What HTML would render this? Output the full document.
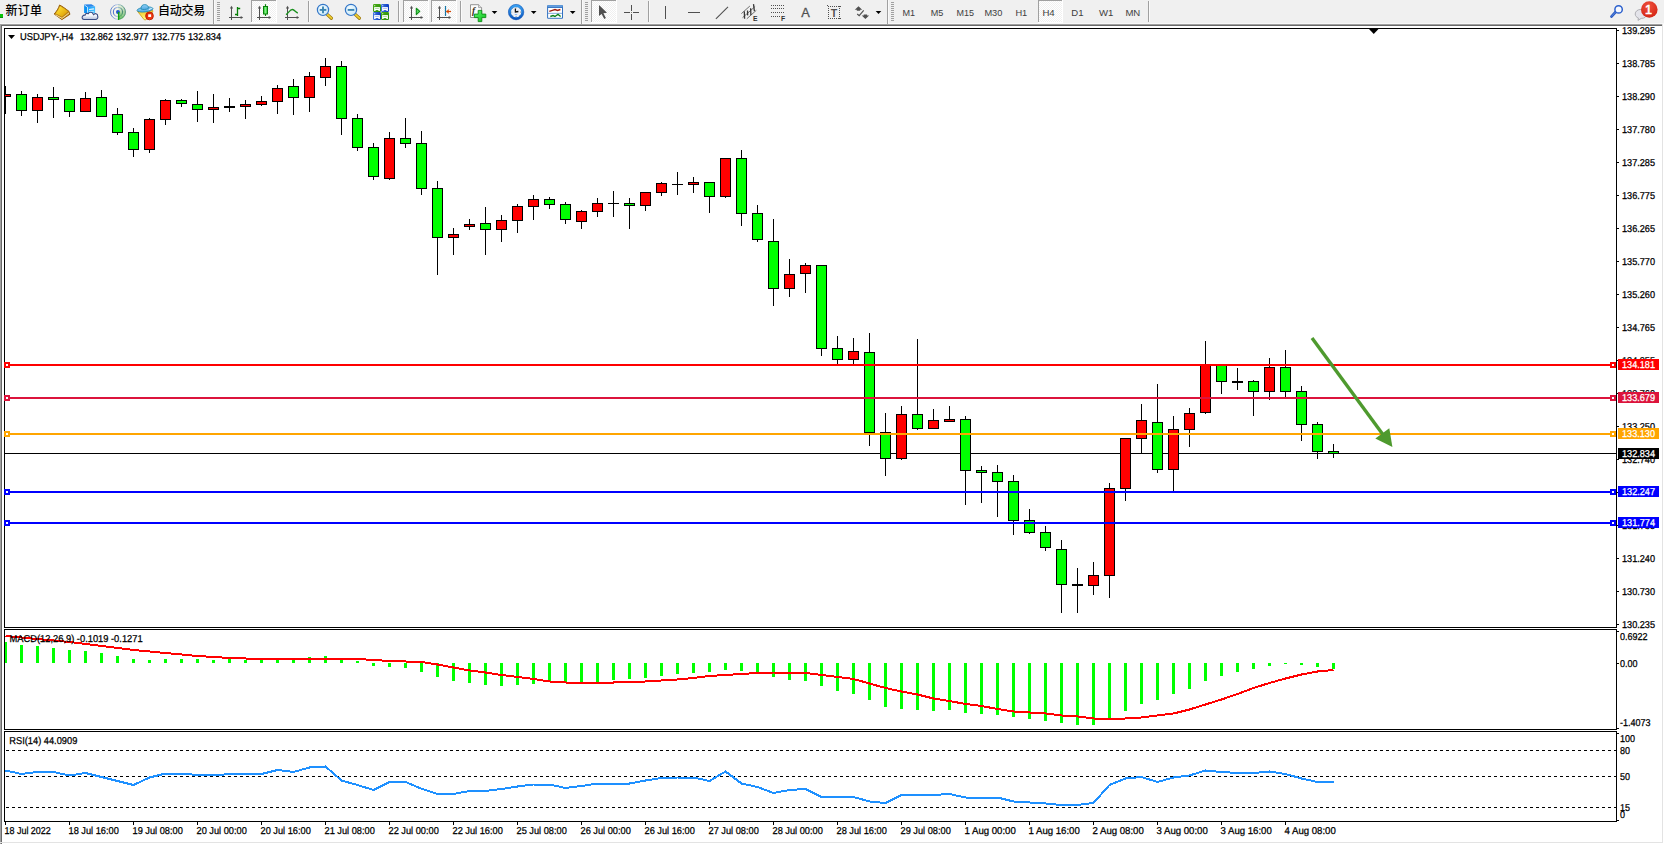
<!DOCTYPE html>
<html lang="zh-CN"><head><meta charset="utf-8"><title>USDJPY-,H4</title>
<style>
html,body{margin:0;padding:0;background:#f0f0f0;}
body{width:1664px;height:844px;overflow:hidden;position:relative;font-family:"Liberation Sans", "Noto Sans CJK SC", sans-serif;}
svg text{white-space:pre;}
</style></head><body>
<svg width="1664" height="844" viewBox="0 0 1664 844" style="position:absolute;left:0;top:0;font-family:'Liberation Sans', 'Noto Sans CJK SC', sans-serif" shape-rendering="crispEdges">
<rect x="0" y="0" width="1664" height="844" fill="#f0f0f0"/>
<rect x="0" y="24" width="1664" height="1" fill="#a0a0a0"/>
<rect x="0" y="25" width="1664" height="1" fill="#696969"/>
<rect x="0" y="26" width="1664" height="818" fill="#ffffff"/>
<rect x="0" y="24" width="1" height="820" fill="#a0a0a0"/>
<rect x="1" y="25" width="1" height="819" fill="#696969"/>
<rect x="1662" y="24" width="1" height="819" fill="#e3e3e3"/>
<rect x="1663" y="24" width="1" height="820" fill="#ffffff"/>
<rect x="0" y="842" width="1663" height="1" fill="#e3e3e3"/>
<rect x="0" y="23" width="1664" height="1" fill="#f8f8f8"/>
<rect x="4.5" y="28.5" width="1612" height="599" fill="none" stroke="#000" stroke-width="1"/>
<rect x="4.5" y="629.5" width="1612" height="100" fill="none" stroke="#000" stroke-width="1"/>
<rect x="4.5" y="731.5" width="1612" height="90" fill="none" stroke="#000" stroke-width="1"/>
<defs><clipPath id="cp"><rect x="5" y="29" width="1611" height="793"/></clipPath></defs>
<g clip-path="url(#cp)">
<rect x="5" y="453" width="1611" height="1" fill="#000"/>
<rect x="5" y="86" width="1" height="28" fill="#000"/>
<rect x="0" y="94" width="11" height="3" fill="#000"/>
<rect x="1" y="95" width="9" height="1" fill="#ff0000"/>
<rect x="21" y="91" width="1" height="25" fill="#000"/>
<rect x="16" y="94" width="11" height="17" fill="#000"/>
<rect x="17" y="95" width="9" height="15" fill="#00ff00"/>
<rect x="37" y="94" width="1" height="29" fill="#000"/>
<rect x="32" y="97" width="11" height="14" fill="#000"/>
<rect x="33" y="98" width="9" height="12" fill="#ff0000"/>
<rect x="53" y="87" width="1" height="31" fill="#000"/>
<rect x="48" y="97" width="11" height="3" fill="#000"/>
<rect x="49" y="98" width="9" height="1" fill="#00ff00"/>
<rect x="69" y="99" width="1" height="18" fill="#000"/>
<rect x="64" y="99" width="11" height="13" fill="#000"/>
<rect x="65" y="100" width="9" height="11" fill="#00ff00"/>
<rect x="85" y="92" width="1" height="20" fill="#000"/>
<rect x="80" y="98" width="11" height="14" fill="#000"/>
<rect x="81" y="99" width="9" height="12" fill="#ff0000"/>
<rect x="101" y="90" width="1" height="27" fill="#000"/>
<rect x="96" y="97" width="11" height="20" fill="#000"/>
<rect x="97" y="98" width="9" height="18" fill="#00ff00"/>
<rect x="117" y="108" width="1" height="27" fill="#000"/>
<rect x="112" y="114" width="11" height="19" fill="#000"/>
<rect x="113" y="115" width="9" height="17" fill="#00ff00"/>
<rect x="133" y="128" width="1" height="29" fill="#000"/>
<rect x="128" y="132" width="11" height="18" fill="#000"/>
<rect x="129" y="133" width="9" height="16" fill="#00ff00"/>
<rect x="149" y="118" width="1" height="35" fill="#000"/>
<rect x="144" y="119" width="11" height="31" fill="#000"/>
<rect x="145" y="120" width="9" height="29" fill="#ff0000"/>
<rect x="165" y="99" width="1" height="26" fill="#000"/>
<rect x="160" y="100" width="11" height="20" fill="#000"/>
<rect x="161" y="101" width="9" height="18" fill="#ff0000"/>
<rect x="181" y="99" width="1" height="8" fill="#000"/>
<rect x="176" y="100" width="11" height="4" fill="#000"/>
<rect x="177" y="101" width="9" height="2" fill="#00ff00"/>
<rect x="197" y="91" width="1" height="31" fill="#000"/>
<rect x="192" y="104" width="11" height="6" fill="#000"/>
<rect x="193" y="105" width="9" height="4" fill="#00ff00"/>
<rect x="213" y="94" width="1" height="29" fill="#000"/>
<rect x="208" y="107" width="11" height="3" fill="#000"/>
<rect x="209" y="108" width="9" height="1" fill="#ff0000"/>
<rect x="229" y="98" width="1" height="14" fill="#000"/>
<rect x="224" y="106" width="11" height="2" fill="#000"/>
<rect x="245" y="100" width="1" height="19" fill="#000"/>
<rect x="240" y="104" width="11" height="3" fill="#000"/>
<rect x="241" y="105" width="9" height="1" fill="#ff0000"/>
<rect x="261" y="96" width="1" height="10" fill="#000"/>
<rect x="256" y="101" width="11" height="4" fill="#000"/>
<rect x="257" y="102" width="9" height="2" fill="#ff0000"/>
<rect x="277" y="85" width="1" height="29" fill="#000"/>
<rect x="272" y="88" width="11" height="14" fill="#000"/>
<rect x="273" y="89" width="9" height="12" fill="#ff0000"/>
<rect x="293" y="79" width="1" height="36" fill="#000"/>
<rect x="288" y="86" width="11" height="12" fill="#000"/>
<rect x="289" y="87" width="9" height="10" fill="#00ff00"/>
<rect x="309" y="72" width="1" height="40" fill="#000"/>
<rect x="304" y="76" width="11" height="22" fill="#000"/>
<rect x="305" y="77" width="9" height="20" fill="#ff0000"/>
<rect x="325" y="58" width="1" height="28" fill="#000"/>
<rect x="320" y="66" width="11" height="12" fill="#000"/>
<rect x="321" y="67" width="9" height="10" fill="#ff0000"/>
<rect x="341" y="61" width="1" height="74" fill="#000"/>
<rect x="336" y="66" width="11" height="53" fill="#000"/>
<rect x="337" y="67" width="9" height="51" fill="#00ff00"/>
<rect x="357" y="114" width="1" height="37" fill="#000"/>
<rect x="352" y="118" width="11" height="30" fill="#000"/>
<rect x="353" y="119" width="9" height="28" fill="#00ff00"/>
<rect x="373" y="143" width="1" height="37" fill="#000"/>
<rect x="368" y="147" width="11" height="30" fill="#000"/>
<rect x="369" y="148" width="9" height="28" fill="#00ff00"/>
<rect x="389" y="132" width="1" height="48" fill="#000"/>
<rect x="384" y="138" width="11" height="41" fill="#000"/>
<rect x="385" y="139" width="9" height="39" fill="#ff0000"/>
<rect x="405" y="118" width="1" height="30" fill="#000"/>
<rect x="400" y="138" width="11" height="6" fill="#000"/>
<rect x="401" y="139" width="9" height="4" fill="#00ff00"/>
<rect x="421" y="131" width="1" height="64" fill="#000"/>
<rect x="416" y="143" width="11" height="46" fill="#000"/>
<rect x="417" y="144" width="9" height="44" fill="#00ff00"/>
<rect x="437" y="181" width="1" height="94" fill="#000"/>
<rect x="432" y="188" width="11" height="50" fill="#000"/>
<rect x="433" y="189" width="9" height="48" fill="#00ff00"/>
<rect x="453" y="228" width="1" height="27" fill="#000"/>
<rect x="448" y="234" width="11" height="4" fill="#000"/>
<rect x="449" y="235" width="9" height="2" fill="#ff0000"/>
<rect x="469" y="219" width="1" height="11" fill="#000"/>
<rect x="464" y="224" width="11" height="3" fill="#000"/>
<rect x="465" y="225" width="9" height="1" fill="#ff0000"/>
<rect x="485" y="207" width="1" height="48" fill="#000"/>
<rect x="480" y="223" width="11" height="7" fill="#000"/>
<rect x="481" y="224" width="9" height="5" fill="#00ff00"/>
<rect x="501" y="215" width="1" height="27" fill="#000"/>
<rect x="496" y="220" width="11" height="10" fill="#000"/>
<rect x="497" y="221" width="9" height="8" fill="#ff0000"/>
<rect x="517" y="204" width="1" height="29" fill="#000"/>
<rect x="512" y="206" width="11" height="15" fill="#000"/>
<rect x="513" y="207" width="9" height="13" fill="#ff0000"/>
<rect x="533" y="195" width="1" height="25" fill="#000"/>
<rect x="528" y="199" width="11" height="8" fill="#000"/>
<rect x="529" y="200" width="9" height="6" fill="#ff0000"/>
<rect x="549" y="197" width="1" height="12" fill="#000"/>
<rect x="544" y="199" width="11" height="6" fill="#000"/>
<rect x="545" y="200" width="9" height="4" fill="#00ff00"/>
<rect x="565" y="202" width="1" height="22" fill="#000"/>
<rect x="560" y="204" width="11" height="16" fill="#000"/>
<rect x="561" y="205" width="9" height="14" fill="#00ff00"/>
<rect x="581" y="210" width="1" height="19" fill="#000"/>
<rect x="576" y="211" width="11" height="11" fill="#000"/>
<rect x="577" y="212" width="9" height="9" fill="#ff0000"/>
<rect x="597" y="198" width="1" height="19" fill="#000"/>
<rect x="592" y="203" width="11" height="9" fill="#000"/>
<rect x="593" y="204" width="9" height="7" fill="#ff0000"/>
<rect x="613" y="191" width="1" height="26" fill="#000"/>
<rect x="608" y="203" width="11" height="1" fill="#000"/>
<rect x="629" y="198" width="1" height="31" fill="#000"/>
<rect x="624" y="203" width="11" height="3" fill="#000"/>
<rect x="625" y="204" width="9" height="1" fill="#00ff00"/>
<rect x="645" y="192" width="1" height="19" fill="#000"/>
<rect x="640" y="192" width="11" height="14" fill="#000"/>
<rect x="641" y="193" width="9" height="12" fill="#ff0000"/>
<rect x="661" y="182" width="1" height="14" fill="#000"/>
<rect x="656" y="183" width="11" height="10" fill="#000"/>
<rect x="657" y="184" width="9" height="8" fill="#ff0000"/>
<rect x="677" y="172" width="1" height="23" fill="#000"/>
<rect x="672" y="184" width="11" height="1" fill="#000"/>
<rect x="693" y="177" width="1" height="16" fill="#000"/>
<rect x="688" y="182" width="11" height="3" fill="#000"/>
<rect x="689" y="183" width="9" height="1" fill="#ff0000"/>
<rect x="709" y="182" width="1" height="31" fill="#000"/>
<rect x="704" y="182" width="11" height="15" fill="#000"/>
<rect x="705" y="183" width="9" height="13" fill="#00ff00"/>
<rect x="725" y="158" width="1" height="40" fill="#000"/>
<rect x="720" y="158" width="11" height="39" fill="#000"/>
<rect x="721" y="159" width="9" height="37" fill="#ff0000"/>
<rect x="741" y="150" width="1" height="76" fill="#000"/>
<rect x="736" y="158" width="11" height="56" fill="#000"/>
<rect x="737" y="159" width="9" height="54" fill="#00ff00"/>
<rect x="757" y="205" width="1" height="37" fill="#000"/>
<rect x="752" y="213" width="11" height="27" fill="#000"/>
<rect x="753" y="214" width="9" height="25" fill="#00ff00"/>
<rect x="773" y="219" width="1" height="87" fill="#000"/>
<rect x="768" y="241" width="11" height="48" fill="#000"/>
<rect x="769" y="242" width="9" height="46" fill="#00ff00"/>
<rect x="789" y="259" width="1" height="38" fill="#000"/>
<rect x="784" y="274" width="11" height="15" fill="#000"/>
<rect x="785" y="275" width="9" height="13" fill="#ff0000"/>
<rect x="805" y="263" width="1" height="30" fill="#000"/>
<rect x="800" y="265" width="11" height="9" fill="#000"/>
<rect x="801" y="266" width="9" height="7" fill="#ff0000"/>
<rect x="821" y="265" width="1" height="91" fill="#000"/>
<rect x="816" y="265" width="11" height="84" fill="#000"/>
<rect x="817" y="266" width="9" height="82" fill="#00ff00"/>
<rect x="837" y="336" width="1" height="28" fill="#000"/>
<rect x="832" y="348" width="11" height="12" fill="#000"/>
<rect x="833" y="349" width="9" height="10" fill="#00ff00"/>
<rect x="853" y="338" width="1" height="26" fill="#000"/>
<rect x="848" y="351" width="11" height="9" fill="#000"/>
<rect x="849" y="352" width="9" height="7" fill="#ff0000"/>
<rect x="869" y="333" width="1" height="113" fill="#000"/>
<rect x="864" y="352" width="11" height="81" fill="#000"/>
<rect x="865" y="353" width="9" height="79" fill="#00ff00"/>
<rect x="885" y="413" width="1" height="63" fill="#000"/>
<rect x="880" y="432" width="11" height="27" fill="#000"/>
<rect x="881" y="433" width="9" height="25" fill="#00ff00"/>
<rect x="901" y="406" width="1" height="54" fill="#000"/>
<rect x="896" y="414" width="11" height="45" fill="#000"/>
<rect x="897" y="415" width="9" height="43" fill="#ff0000"/>
<rect x="917" y="339" width="1" height="91" fill="#000"/>
<rect x="912" y="414" width="11" height="15" fill="#000"/>
<rect x="913" y="415" width="9" height="13" fill="#00ff00"/>
<rect x="933" y="409" width="1" height="20" fill="#000"/>
<rect x="928" y="420" width="11" height="9" fill="#000"/>
<rect x="929" y="421" width="9" height="7" fill="#ff0000"/>
<rect x="949" y="406" width="1" height="16" fill="#000"/>
<rect x="944" y="419" width="11" height="3" fill="#000"/>
<rect x="945" y="420" width="9" height="1" fill="#ff0000"/>
<rect x="965" y="416" width="1" height="89" fill="#000"/>
<rect x="960" y="419" width="11" height="52" fill="#000"/>
<rect x="961" y="420" width="9" height="50" fill="#00ff00"/>
<rect x="981" y="466" width="1" height="37" fill="#000"/>
<rect x="976" y="470" width="11" height="3" fill="#000"/>
<rect x="977" y="471" width="9" height="1" fill="#00ff00"/>
<rect x="997" y="465" width="1" height="52" fill="#000"/>
<rect x="992" y="472" width="11" height="10" fill="#000"/>
<rect x="993" y="473" width="9" height="8" fill="#00ff00"/>
<rect x="1013" y="475" width="1" height="60" fill="#000"/>
<rect x="1008" y="481" width="11" height="40" fill="#000"/>
<rect x="1009" y="482" width="9" height="38" fill="#00ff00"/>
<rect x="1029" y="509" width="1" height="25" fill="#000"/>
<rect x="1024" y="520" width="11" height="13" fill="#000"/>
<rect x="1025" y="521" width="9" height="11" fill="#00ff00"/>
<rect x="1045" y="526" width="1" height="25" fill="#000"/>
<rect x="1040" y="532" width="11" height="16" fill="#000"/>
<rect x="1041" y="533" width="9" height="14" fill="#00ff00"/>
<rect x="1061" y="540" width="1" height="73" fill="#000"/>
<rect x="1056" y="549" width="11" height="36" fill="#000"/>
<rect x="1057" y="550" width="9" height="34" fill="#00ff00"/>
<rect x="1077" y="568" width="1" height="45" fill="#000"/>
<rect x="1072" y="584" width="11" height="2" fill="#000"/>
<rect x="1093" y="562" width="1" height="33" fill="#000"/>
<rect x="1088" y="575" width="11" height="11" fill="#000"/>
<rect x="1089" y="576" width="9" height="9" fill="#ff0000"/>
<rect x="1109" y="483" width="1" height="115" fill="#000"/>
<rect x="1104" y="488" width="11" height="88" fill="#000"/>
<rect x="1105" y="489" width="9" height="86" fill="#ff0000"/>
<rect x="1125" y="438" width="1" height="63" fill="#000"/>
<rect x="1120" y="438" width="11" height="51" fill="#000"/>
<rect x="1121" y="439" width="9" height="49" fill="#ff0000"/>
<rect x="1141" y="404" width="1" height="49" fill="#000"/>
<rect x="1136" y="420" width="11" height="19" fill="#000"/>
<rect x="1137" y="421" width="9" height="17" fill="#ff0000"/>
<rect x="1157" y="384" width="1" height="89" fill="#000"/>
<rect x="1152" y="422" width="11" height="48" fill="#000"/>
<rect x="1153" y="423" width="9" height="46" fill="#00ff00"/>
<rect x="1173" y="416" width="1" height="75" fill="#000"/>
<rect x="1168" y="429" width="11" height="41" fill="#000"/>
<rect x="1169" y="430" width="9" height="39" fill="#ff0000"/>
<rect x="1189" y="408" width="1" height="39" fill="#000"/>
<rect x="1184" y="413" width="11" height="17" fill="#000"/>
<rect x="1185" y="414" width="9" height="15" fill="#ff0000"/>
<rect x="1205" y="341" width="1" height="73" fill="#000"/>
<rect x="1200" y="364" width="11" height="49" fill="#000"/>
<rect x="1201" y="365" width="9" height="47" fill="#ff0000"/>
<rect x="1221" y="365" width="1" height="29" fill="#000"/>
<rect x="1216" y="365" width="11" height="17" fill="#000"/>
<rect x="1217" y="366" width="9" height="15" fill="#00ff00"/>
<rect x="1237" y="368" width="1" height="22" fill="#000"/>
<rect x="1232" y="381" width="11" height="2" fill="#000"/>
<rect x="1253" y="380" width="1" height="36" fill="#000"/>
<rect x="1248" y="381" width="11" height="11" fill="#000"/>
<rect x="1249" y="382" width="9" height="9" fill="#00ff00"/>
<rect x="1269" y="358" width="1" height="42" fill="#000"/>
<rect x="1264" y="367" width="11" height="25" fill="#000"/>
<rect x="1265" y="368" width="9" height="23" fill="#ff0000"/>
<rect x="1285" y="350" width="1" height="47" fill="#000"/>
<rect x="1280" y="367" width="11" height="25" fill="#000"/>
<rect x="1281" y="368" width="9" height="23" fill="#00ff00"/>
<rect x="1301" y="386" width="1" height="55" fill="#000"/>
<rect x="1296" y="391" width="11" height="34" fill="#000"/>
<rect x="1297" y="392" width="9" height="32" fill="#00ff00"/>
<rect x="1317" y="422" width="1" height="37" fill="#000"/>
<rect x="1312" y="424" width="11" height="28" fill="#000"/>
<rect x="1313" y="425" width="9" height="26" fill="#00ff00"/>
<rect x="1333" y="444" width="1" height="14" fill="#000"/>
<rect x="1328" y="451" width="11" height="3" fill="#000"/>
<rect x="1329" y="452" width="9" height="1" fill="#00ff00"/>
<rect x="4" y="642" width="3" height="21" fill="#00ff00"/>
<rect x="20" y="645" width="3" height="18" fill="#00ff00"/>
<rect x="36" y="646" width="3" height="17" fill="#00ff00"/>
<rect x="52" y="648" width="3" height="15" fill="#00ff00"/>
<rect x="68" y="650" width="3" height="13" fill="#00ff00"/>
<rect x="84" y="651" width="3" height="12" fill="#00ff00"/>
<rect x="100" y="653" width="3" height="10" fill="#00ff00"/>
<rect x="116" y="656" width="3" height="7" fill="#00ff00"/>
<rect x="132" y="659" width="3" height="4" fill="#00ff00"/>
<rect x="148" y="660" width="3" height="3" fill="#00ff00"/>
<rect x="164" y="659" width="3" height="4" fill="#00ff00"/>
<rect x="180" y="659" width="3" height="4" fill="#00ff00"/>
<rect x="196" y="659" width="3" height="4" fill="#00ff00"/>
<rect x="212" y="660" width="3" height="3" fill="#00ff00"/>
<rect x="228" y="659" width="3" height="4" fill="#00ff00"/>
<rect x="244" y="660" width="3" height="3" fill="#00ff00"/>
<rect x="260" y="660" width="3" height="3" fill="#00ff00"/>
<rect x="276" y="660" width="3" height="3" fill="#00ff00"/>
<rect x="292" y="660" width="3" height="3" fill="#00ff00"/>
<rect x="308" y="657" width="3" height="6" fill="#00ff00"/>
<rect x="324" y="656" width="3" height="7" fill="#00ff00"/>
<rect x="340" y="659" width="3" height="4" fill="#00ff00"/>
<rect x="356" y="661" width="3" height="2" fill="#00ff00"/>
<rect x="372" y="663" width="3" height="3" fill="#00ff00"/>
<rect x="388" y="663" width="3" height="4" fill="#00ff00"/>
<rect x="404" y="663" width="3" height="5" fill="#00ff00"/>
<rect x="420" y="663" width="3" height="9" fill="#00ff00"/>
<rect x="436" y="663" width="3" height="14" fill="#00ff00"/>
<rect x="452" y="663" width="3" height="18" fill="#00ff00"/>
<rect x="468" y="663" width="3" height="20" fill="#00ff00"/>
<rect x="484" y="663" width="3" height="22" fill="#00ff00"/>
<rect x="500" y="663" width="3" height="23" fill="#00ff00"/>
<rect x="516" y="663" width="3" height="22" fill="#00ff00"/>
<rect x="532" y="663" width="3" height="21" fill="#00ff00"/>
<rect x="548" y="663" width="3" height="19" fill="#00ff00"/>
<rect x="564" y="663" width="3" height="19" fill="#00ff00"/>
<rect x="580" y="663" width="3" height="19" fill="#00ff00"/>
<rect x="596" y="663" width="3" height="19" fill="#00ff00"/>
<rect x="612" y="663" width="3" height="17" fill="#00ff00"/>
<rect x="628" y="663" width="3" height="16" fill="#00ff00"/>
<rect x="644" y="663" width="3" height="15" fill="#00ff00"/>
<rect x="660" y="663" width="3" height="13" fill="#00ff00"/>
<rect x="676" y="663" width="3" height="11" fill="#00ff00"/>
<rect x="692" y="663" width="3" height="10" fill="#00ff00"/>
<rect x="708" y="663" width="3" height="9" fill="#00ff00"/>
<rect x="724" y="663" width="3" height="7" fill="#00ff00"/>
<rect x="740" y="663" width="3" height="8" fill="#00ff00"/>
<rect x="756" y="663" width="3" height="10" fill="#00ff00"/>
<rect x="772" y="663" width="3" height="14" fill="#00ff00"/>
<rect x="788" y="663" width="3" height="17" fill="#00ff00"/>
<rect x="804" y="663" width="3" height="18" fill="#00ff00"/>
<rect x="820" y="663" width="3" height="23" fill="#00ff00"/>
<rect x="836" y="663" width="3" height="28" fill="#00ff00"/>
<rect x="852" y="663" width="3" height="31" fill="#00ff00"/>
<rect x="868" y="663" width="3" height="37" fill="#00ff00"/>
<rect x="884" y="663" width="3" height="44" fill="#00ff00"/>
<rect x="900" y="663" width="3" height="46" fill="#00ff00"/>
<rect x="916" y="663" width="3" height="47" fill="#00ff00"/>
<rect x="932" y="663" width="3" height="48" fill="#00ff00"/>
<rect x="948" y="663" width="3" height="47" fill="#00ff00"/>
<rect x="964" y="663" width="3" height="50" fill="#00ff00"/>
<rect x="980" y="663" width="3" height="51" fill="#00ff00"/>
<rect x="996" y="663" width="3" height="52" fill="#00ff00"/>
<rect x="1012" y="663" width="3" height="54" fill="#00ff00"/>
<rect x="1028" y="663" width="3" height="56" fill="#00ff00"/>
<rect x="1044" y="663" width="3" height="58" fill="#00ff00"/>
<rect x="1060" y="663" width="3" height="60" fill="#00ff00"/>
<rect x="1076" y="663" width="3" height="62" fill="#00ff00"/>
<rect x="1092" y="663" width="3" height="62" fill="#00ff00"/>
<rect x="1108" y="663" width="3" height="55" fill="#00ff00"/>
<rect x="1124" y="663" width="3" height="48" fill="#00ff00"/>
<rect x="1140" y="663" width="3" height="41" fill="#00ff00"/>
<rect x="1156" y="663" width="3" height="37" fill="#00ff00"/>
<rect x="1172" y="663" width="3" height="31" fill="#00ff00"/>
<rect x="1188" y="663" width="3" height="26" fill="#00ff00"/>
<rect x="1204" y="663" width="3" height="18" fill="#00ff00"/>
<rect x="1220" y="663" width="3" height="13" fill="#00ff00"/>
<rect x="1236" y="663" width="3" height="9" fill="#00ff00"/>
<rect x="1252" y="663" width="3" height="6" fill="#00ff00"/>
<rect x="1268" y="663" width="3" height="3" fill="#00ff00"/>
<rect x="1284" y="663" width="3" height="1" fill="#00ff00"/>
<rect x="1300" y="663" width="3" height="2" fill="#00ff00"/>
<rect x="1316" y="663" width="3" height="4" fill="#00ff00"/>
<rect x="1332" y="663" width="3" height="6" fill="#00ff00"/>
<polyline points="5.5,636 21.5,637.5 37.5,639 53.5,640.5 69.5,642 85.5,644 101.5,646 117.5,648 133.5,650 149.5,651.5 165.5,653 181.5,654.5 197.5,656 213.5,657 229.5,658 245.5,658.5 261.5,658.5 277.5,658.5 293.5,658.5 309.5,658.5 325.5,658.5 341.5,658.5 357.5,659 373.5,660 389.5,661 405.5,661.5 421.5,662 437.5,664.5 453.5,667.5 469.5,670.5 485.5,672.5 501.5,675 517.5,677 533.5,679 549.5,681.5 565.5,682.5 581.5,682.5 597.5,682.5 613.5,682.5 629.5,682 645.5,681.5 661.5,680.5 677.5,679.5 693.5,678 709.5,676 725.5,675 741.5,674 757.5,673 773.5,672.5 789.5,672.5 805.5,673 821.5,675 837.5,677 853.5,679 869.5,683.5 885.5,688 901.5,691.5 917.5,694.5 933.5,698.5 949.5,701 965.5,704 981.5,706 997.5,709 1013.5,711.5 1029.5,712.5 1045.5,713.5 1061.5,715.5 1077.5,716.5 1093.5,718.5 1109.5,719 1125.5,718.5 1141.5,717.5 1157.5,715.5 1173.5,713.5 1189.5,709.5 1205.5,704.5 1221.5,699.5 1237.5,694 1253.5,688 1269.5,683 1285.5,678.5 1301.5,674.5 1317.5,671.5 1333.5,670" fill="none" stroke="#ff0000" stroke-width="2" stroke-linejoin="round" shape-rendering="crispEdges"/>
<line x1="5" y1="750.5" x2="1616" y2="750.5" stroke="#000" stroke-width="1" stroke-dasharray="3 3" stroke-dashoffset="5"/>
<line x1="5" y1="776.5" x2="1616" y2="776.5" stroke="#000" stroke-width="1" stroke-dasharray="3 3" stroke-dashoffset="5"/>
<line x1="5" y1="807.5" x2="1616" y2="807.5" stroke="#000" stroke-width="1" stroke-dasharray="3 3" stroke-dashoffset="5"/>
<polyline points="5.5,770.5 21.5,774 37.5,772 53.5,772 69.5,775.5 85.5,773 101.5,777 117.5,781 133.5,785 149.5,777.5 165.5,773.5 181.5,773.5 197.5,775 213.5,775.5 229.5,774 245.5,774 261.5,774 277.5,770 293.5,772 309.5,767.5 325.5,766.5 341.5,780.5 357.5,785 373.5,790 389.5,782 405.5,782 421.5,788.75 437.5,794 453.5,794 469.5,791 485.5,791 501.5,789 517.5,786.5 533.5,784.5 549.5,784.5 565.5,788 581.5,786 597.5,783.5 613.5,783.5 629.5,783.5 645.5,780.5 661.5,778 677.5,777.5 693.5,777.5 709.5,781 725.5,771.5 741.5,783.5 757.5,787 773.5,793 789.5,790 805.5,789 821.5,797 837.5,797 853.5,797 869.5,801.5 885.5,803 901.5,795 917.5,795 933.5,795 949.5,794 965.5,797.5 981.5,797.5 997.5,797.5 1013.5,801.5 1029.5,802.5 1045.5,803.5 1061.5,805 1077.5,805 1093.5,803 1109.5,785 1125.5,778.5 1141.5,777 1157.5,782 1173.5,777.5 1189.5,775.5 1205.5,770.5 1221.5,772 1237.5,773 1253.5,773 1269.5,771.5 1285.5,774 1301.5,778.5 1317.5,782 1333.5,782" fill="none" stroke="#1e90ff" stroke-width="2" stroke-linejoin="round" shape-rendering="crispEdges"/>
<rect x="5" y="364" width="1611" height="2" fill="#ff0000"/>
<rect x="5" y="397" width="1611" height="2" fill="#dc143c"/>
<rect x="5" y="433" width="1611" height="2" fill="#ffa500"/>
<rect x="5" y="491" width="1611" height="2" fill="#0000ff"/>
<rect x="5" y="522" width="1611" height="2" fill="#0000ff"/>
</g>
<rect x="4" y="362" width="6" height="6" fill="#ff0000"/>
<rect x="6" y="364" width="2" height="2" fill="#fff"/>
<rect x="1610" y="362" width="6" height="6" fill="#ff0000"/>
<rect x="1612" y="364" width="2" height="2" fill="#fff"/>
<rect x="4" y="395" width="6" height="6" fill="#dc143c"/>
<rect x="6" y="397" width="2" height="2" fill="#fff"/>
<rect x="1610" y="395" width="6" height="6" fill="#dc143c"/>
<rect x="1612" y="397" width="2" height="2" fill="#fff"/>
<rect x="4" y="431" width="6" height="6" fill="#ffa500"/>
<rect x="6" y="433" width="2" height="2" fill="#fff"/>
<rect x="1610" y="431" width="6" height="6" fill="#ffa500"/>
<rect x="1612" y="433" width="2" height="2" fill="#fff"/>
<rect x="4" y="489" width="6" height="6" fill="#0000ff"/>
<rect x="6" y="491" width="2" height="2" fill="#fff"/>
<rect x="1610" y="489" width="6" height="6" fill="#0000ff"/>
<rect x="1612" y="491" width="2" height="2" fill="#fff"/>
<rect x="4" y="520" width="6" height="6" fill="#0000ff"/>
<rect x="6" y="522" width="2" height="2" fill="#fff"/>
<rect x="1610" y="520" width="6" height="6" fill="#0000ff"/>
<rect x="1612" y="522" width="2" height="2" fill="#fff"/>
<g shape-rendering="geometricPrecision"><line x1="1312" y1="338" x2="1384" y2="436" stroke="#4e9a2e" stroke-width="3.4"/><polygon points="1392.4,447 1375.3,438.4 1389.3,428.3" fill="#4e9a2e"/></g>
<polygon points="1369,29 1378.5,29 1373.75,34" fill="#000" shape-rendering="geometricPrecision"/>
<rect x="1617" y="30" width="2" height="1" fill="#000"/>
<text transform="translate(1622 34) scale(0.9 1)" fill="#000" stroke="#000" stroke-width="0.26" font-size="10" text-rendering="geometricPrecision" text-anchor="start" textLength="36.67" lengthAdjust="spacingAndGlyphs">139.295</text>
<rect x="1617" y="63" width="2" height="1" fill="#000"/>
<text transform="translate(1622 67) scale(0.9 1)" fill="#000" stroke="#000" stroke-width="0.26" font-size="10" text-rendering="geometricPrecision" text-anchor="start" textLength="36.67" lengthAdjust="spacingAndGlyphs">138.785</text>
<rect x="1617" y="96" width="2" height="1" fill="#000"/>
<text transform="translate(1622 100) scale(0.9 1)" fill="#000" stroke="#000" stroke-width="0.26" font-size="10" text-rendering="geometricPrecision" text-anchor="start" textLength="36.67" lengthAdjust="spacingAndGlyphs">138.290</text>
<rect x="1617" y="129" width="2" height="1" fill="#000"/>
<text transform="translate(1622 133) scale(0.9 1)" fill="#000" stroke="#000" stroke-width="0.26" font-size="10" text-rendering="geometricPrecision" text-anchor="start" textLength="36.67" lengthAdjust="spacingAndGlyphs">137.780</text>
<rect x="1617" y="162" width="2" height="1" fill="#000"/>
<text transform="translate(1622 166) scale(0.9 1)" fill="#000" stroke="#000" stroke-width="0.26" font-size="10" text-rendering="geometricPrecision" text-anchor="start" textLength="36.67" lengthAdjust="spacingAndGlyphs">137.285</text>
<rect x="1617" y="195" width="2" height="1" fill="#000"/>
<text transform="translate(1622 199) scale(0.9 1)" fill="#000" stroke="#000" stroke-width="0.26" font-size="10" text-rendering="geometricPrecision" text-anchor="start" textLength="36.67" lengthAdjust="spacingAndGlyphs">136.775</text>
<rect x="1617" y="228" width="2" height="1" fill="#000"/>
<text transform="translate(1622 232) scale(0.9 1)" fill="#000" stroke="#000" stroke-width="0.26" font-size="10" text-rendering="geometricPrecision" text-anchor="start" textLength="36.67" lengthAdjust="spacingAndGlyphs">136.265</text>
<rect x="1617" y="261" width="2" height="1" fill="#000"/>
<text transform="translate(1622 265) scale(0.9 1)" fill="#000" stroke="#000" stroke-width="0.26" font-size="10" text-rendering="geometricPrecision" text-anchor="start" textLength="36.67" lengthAdjust="spacingAndGlyphs">135.770</text>
<rect x="1617" y="294" width="2" height="1" fill="#000"/>
<text transform="translate(1622 298) scale(0.9 1)" fill="#000" stroke="#000" stroke-width="0.26" font-size="10" text-rendering="geometricPrecision" text-anchor="start" textLength="36.67" lengthAdjust="spacingAndGlyphs">135.260</text>
<rect x="1617" y="327" width="2" height="1" fill="#000"/>
<text transform="translate(1622 331) scale(0.9 1)" fill="#000" stroke="#000" stroke-width="0.26" font-size="10" text-rendering="geometricPrecision" text-anchor="start" textLength="36.67" lengthAdjust="spacingAndGlyphs">134.765</text>
<rect x="1617" y="360" width="2" height="1" fill="#000"/>
<text transform="translate(1622 364) scale(0.9 1)" fill="#000" stroke="#000" stroke-width="0.26" font-size="10" text-rendering="geometricPrecision" text-anchor="start" textLength="36.67" lengthAdjust="spacingAndGlyphs">134.255</text>
<rect x="1617" y="393" width="2" height="1" fill="#000"/>
<text transform="translate(1622 397) scale(0.9 1)" fill="#000" stroke="#000" stroke-width="0.26" font-size="10" text-rendering="geometricPrecision" text-anchor="start" textLength="36.67" lengthAdjust="spacingAndGlyphs">133.760</text>
<rect x="1617" y="426" width="2" height="1" fill="#000"/>
<text transform="translate(1622 430) scale(0.9 1)" fill="#000" stroke="#000" stroke-width="0.26" font-size="10" text-rendering="geometricPrecision" text-anchor="start" textLength="36.67" lengthAdjust="spacingAndGlyphs">133.250</text>
<rect x="1617" y="459" width="2" height="1" fill="#000"/>
<text transform="translate(1622 463) scale(0.9 1)" fill="#000" stroke="#000" stroke-width="0.26" font-size="10" text-rendering="geometricPrecision" text-anchor="start" textLength="36.67" lengthAdjust="spacingAndGlyphs">132.740</text>
<rect x="1617" y="492" width="2" height="1" fill="#000"/>
<text transform="translate(1622 496) scale(0.9 1)" fill="#000" stroke="#000" stroke-width="0.26" font-size="10" text-rendering="geometricPrecision" text-anchor="start" textLength="36.67" lengthAdjust="spacingAndGlyphs">132.245</text>
<rect x="1617" y="525" width="2" height="1" fill="#000"/>
<text transform="translate(1622 529) scale(0.9 1)" fill="#000" stroke="#000" stroke-width="0.26" font-size="10" text-rendering="geometricPrecision" text-anchor="start" textLength="36.67" lengthAdjust="spacingAndGlyphs">131.735</text>
<rect x="1617" y="558" width="2" height="1" fill="#000"/>
<text transform="translate(1622 562) scale(0.9 1)" fill="#000" stroke="#000" stroke-width="0.26" font-size="10" text-rendering="geometricPrecision" text-anchor="start" textLength="36.67" lengthAdjust="spacingAndGlyphs">131.240</text>
<rect x="1617" y="591" width="2" height="1" fill="#000"/>
<text transform="translate(1622 595) scale(0.9 1)" fill="#000" stroke="#000" stroke-width="0.26" font-size="10" text-rendering="geometricPrecision" text-anchor="start" textLength="36.67" lengthAdjust="spacingAndGlyphs">130.730</text>
<rect x="1617" y="624" width="2" height="1" fill="#000"/>
<text transform="translate(1622 628) scale(0.9 1)" fill="#000" stroke="#000" stroke-width="0.26" font-size="10" text-rendering="geometricPrecision" text-anchor="start" textLength="36.67" lengthAdjust="spacingAndGlyphs">130.235</text>
<rect x="1617" y="631" width="2" height="1" fill="#000"/>
<rect x="1617" y="663" width="2" height="1" fill="#000"/>
<rect x="1617" y="728" width="2" height="1" fill="#000"/>
<rect x="1617" y="733" width="2" height="1" fill="#000"/>
<rect x="1617" y="820" width="2" height="1" fill="#000"/>
<text transform="translate(1620 640) scale(0.9 1)" fill="#000" stroke="#000" stroke-width="0.26" font-size="10" text-rendering="geometricPrecision" text-anchor="start">0.6922</text>
<text transform="translate(1620 667) scale(0.9 1)" fill="#000" stroke="#000" stroke-width="0.26" font-size="10" text-rendering="geometricPrecision" text-anchor="start">0.00</text>
<text transform="translate(1620 726) scale(0.9 1)" fill="#000" stroke="#000" stroke-width="0.26" font-size="10" text-rendering="geometricPrecision" text-anchor="start">-1.4073</text>
<text transform="translate(1620 742) scale(0.9 1)" fill="#000" stroke="#000" stroke-width="0.26" font-size="10" text-rendering="geometricPrecision" text-anchor="start">100</text>
<text transform="translate(1620 754) scale(0.9 1)" fill="#000" stroke="#000" stroke-width="0.26" font-size="10" text-rendering="geometricPrecision" text-anchor="start">80</text>
<text transform="translate(1620 780) scale(0.9 1)" fill="#000" stroke="#000" stroke-width="0.26" font-size="10" text-rendering="geometricPrecision" text-anchor="start">50</text>
<text transform="translate(1620 811) scale(0.9 1)" fill="#000" stroke="#000" stroke-width="0.26" font-size="10" text-rendering="geometricPrecision" text-anchor="start">15</text>
<text transform="translate(1620 818) scale(0.9 1)" fill="#000" stroke="#000" stroke-width="0.26" font-size="10" text-rendering="geometricPrecision" text-anchor="start">0</text>
<rect x="1618" y="359" width="41" height="11" fill="#ff0000"/>
<text transform="translate(1622 368) scale(0.9 1)" fill="#fff" stroke="#fff" stroke-width="0.26" font-size="10" text-rendering="geometricPrecision" text-anchor="start" textLength="36.67" lengthAdjust="spacingAndGlyphs">134.181</text>
<rect x="1618" y="392" width="41" height="11" fill="#dc143c"/>
<text transform="translate(1622 401) scale(0.9 1)" fill="#fff" stroke="#fff" stroke-width="0.26" font-size="10" text-rendering="geometricPrecision" text-anchor="start" textLength="36.67" lengthAdjust="spacingAndGlyphs">133.679</text>
<rect x="1618" y="428" width="41" height="11" fill="#ffa500"/>
<text transform="translate(1622 437) scale(0.9 1)" fill="#fff" stroke="#fff" stroke-width="0.26" font-size="10" text-rendering="geometricPrecision" text-anchor="start" textLength="36.67" lengthAdjust="spacingAndGlyphs">133.130</text>
<rect x="1618" y="486" width="41" height="11" fill="#0000ff"/>
<text transform="translate(1622 495) scale(0.9 1)" fill="#fff" stroke="#fff" stroke-width="0.26" font-size="10" text-rendering="geometricPrecision" text-anchor="start" textLength="36.67" lengthAdjust="spacingAndGlyphs">132.247</text>
<rect x="1618" y="517" width="41" height="11" fill="#0000ff"/>
<text transform="translate(1622 526) scale(0.9 1)" fill="#fff" stroke="#fff" stroke-width="0.26" font-size="10" text-rendering="geometricPrecision" text-anchor="start" textLength="36.67" lengthAdjust="spacingAndGlyphs">131.774</text>
<rect x="1618" y="448" width="41" height="11" fill="#000"/>
<text transform="translate(1622 457) scale(0.9 1)" fill="#fff" stroke="#fff" stroke-width="0.26" font-size="10" text-rendering="geometricPrecision" text-anchor="start" textLength="36.67" lengthAdjust="spacingAndGlyphs">132.834</text>
<rect x="5" y="822" width="1" height="3" fill="#000"/>
<text transform="translate(4.5 834) scale(0.9 1)" fill="#000" stroke="#000" stroke-width="0.26" font-size="10" text-rendering="geometricPrecision" text-anchor="start" textLength="51.44" lengthAdjust="spacingAndGlyphs">18 Jul 2022</text>
<rect x="69" y="822" width="1" height="3" fill="#000"/>
<text transform="translate(68.5 834) scale(0.9 1)" fill="#000" stroke="#000" stroke-width="0.26" font-size="10" text-rendering="geometricPrecision" text-anchor="start" textLength="55.89" lengthAdjust="spacingAndGlyphs">18 Jul 16:00</text>
<rect x="133" y="822" width="1" height="3" fill="#000"/>
<text transform="translate(132.5 834) scale(0.9 1)" fill="#000" stroke="#000" stroke-width="0.26" font-size="10" text-rendering="geometricPrecision" text-anchor="start" textLength="55.89" lengthAdjust="spacingAndGlyphs">19 Jul 08:00</text>
<rect x="197" y="822" width="1" height="3" fill="#000"/>
<text transform="translate(196.5 834) scale(0.9 1)" fill="#000" stroke="#000" stroke-width="0.26" font-size="10" text-rendering="geometricPrecision" text-anchor="start" textLength="55.89" lengthAdjust="spacingAndGlyphs">20 Jul 00:00</text>
<rect x="261" y="822" width="1" height="3" fill="#000"/>
<text transform="translate(260.5 834) scale(0.9 1)" fill="#000" stroke="#000" stroke-width="0.26" font-size="10" text-rendering="geometricPrecision" text-anchor="start" textLength="55.89" lengthAdjust="spacingAndGlyphs">20 Jul 16:00</text>
<rect x="325" y="822" width="1" height="3" fill="#000"/>
<text transform="translate(324.5 834) scale(0.9 1)" fill="#000" stroke="#000" stroke-width="0.26" font-size="10" text-rendering="geometricPrecision" text-anchor="start" textLength="55.89" lengthAdjust="spacingAndGlyphs">21 Jul 08:00</text>
<rect x="389" y="822" width="1" height="3" fill="#000"/>
<text transform="translate(388.5 834) scale(0.9 1)" fill="#000" stroke="#000" stroke-width="0.26" font-size="10" text-rendering="geometricPrecision" text-anchor="start" textLength="55.89" lengthAdjust="spacingAndGlyphs">22 Jul 00:00</text>
<rect x="453" y="822" width="1" height="3" fill="#000"/>
<text transform="translate(452.5 834) scale(0.9 1)" fill="#000" stroke="#000" stroke-width="0.26" font-size="10" text-rendering="geometricPrecision" text-anchor="start" textLength="55.89" lengthAdjust="spacingAndGlyphs">22 Jul 16:00</text>
<rect x="517" y="822" width="1" height="3" fill="#000"/>
<text transform="translate(516.5 834) scale(0.9 1)" fill="#000" stroke="#000" stroke-width="0.26" font-size="10" text-rendering="geometricPrecision" text-anchor="start" textLength="55.89" lengthAdjust="spacingAndGlyphs">25 Jul 08:00</text>
<rect x="581" y="822" width="1" height="3" fill="#000"/>
<text transform="translate(580.5 834) scale(0.9 1)" fill="#000" stroke="#000" stroke-width="0.26" font-size="10" text-rendering="geometricPrecision" text-anchor="start" textLength="55.89" lengthAdjust="spacingAndGlyphs">26 Jul 00:00</text>
<rect x="645" y="822" width="1" height="3" fill="#000"/>
<text transform="translate(644.5 834) scale(0.9 1)" fill="#000" stroke="#000" stroke-width="0.26" font-size="10" text-rendering="geometricPrecision" text-anchor="start" textLength="55.89" lengthAdjust="spacingAndGlyphs">26 Jul 16:00</text>
<rect x="709" y="822" width="1" height="3" fill="#000"/>
<text transform="translate(708.5 834) scale(0.9 1)" fill="#000" stroke="#000" stroke-width="0.26" font-size="10" text-rendering="geometricPrecision" text-anchor="start" textLength="55.89" lengthAdjust="spacingAndGlyphs">27 Jul 08:00</text>
<rect x="773" y="822" width="1" height="3" fill="#000"/>
<text transform="translate(772.5 834) scale(0.9 1)" fill="#000" stroke="#000" stroke-width="0.26" font-size="10" text-rendering="geometricPrecision" text-anchor="start" textLength="55.89" lengthAdjust="spacingAndGlyphs">28 Jul 00:00</text>
<rect x="837" y="822" width="1" height="3" fill="#000"/>
<text transform="translate(836.5 834) scale(0.9 1)" fill="#000" stroke="#000" stroke-width="0.26" font-size="10" text-rendering="geometricPrecision" text-anchor="start" textLength="55.89" lengthAdjust="spacingAndGlyphs">28 Jul 16:00</text>
<rect x="901" y="822" width="1" height="3" fill="#000"/>
<text transform="translate(900.5 834) scale(0.9 1)" fill="#000" stroke="#000" stroke-width="0.26" font-size="10" text-rendering="geometricPrecision" text-anchor="start" textLength="55.89" lengthAdjust="spacingAndGlyphs">29 Jul 08:00</text>
<rect x="965" y="822" width="1" height="3" fill="#000"/>
<text transform="translate(964.5 834) scale(0.9 1)" fill="#000" stroke="#000" stroke-width="0.26" font-size="10" text-rendering="geometricPrecision" text-anchor="start" textLength="57.00" lengthAdjust="spacingAndGlyphs">1 Aug 00:00</text>
<rect x="1029" y="822" width="1" height="3" fill="#000"/>
<text transform="translate(1028.5 834) scale(0.9 1)" fill="#000" stroke="#000" stroke-width="0.26" font-size="10" text-rendering="geometricPrecision" text-anchor="start" textLength="57.00" lengthAdjust="spacingAndGlyphs">1 Aug 16:00</text>
<rect x="1093" y="822" width="1" height="3" fill="#000"/>
<text transform="translate(1092.5 834) scale(0.9 1)" fill="#000" stroke="#000" stroke-width="0.26" font-size="10" text-rendering="geometricPrecision" text-anchor="start" textLength="57.00" lengthAdjust="spacingAndGlyphs">2 Aug 08:00</text>
<rect x="1157" y="822" width="1" height="3" fill="#000"/>
<text transform="translate(1156.5 834) scale(0.9 1)" fill="#000" stroke="#000" stroke-width="0.26" font-size="10" text-rendering="geometricPrecision" text-anchor="start" textLength="57.00" lengthAdjust="spacingAndGlyphs">3 Aug 00:00</text>
<rect x="1221" y="822" width="1" height="3" fill="#000"/>
<text transform="translate(1220.5 834) scale(0.9 1)" fill="#000" stroke="#000" stroke-width="0.26" font-size="10" text-rendering="geometricPrecision" text-anchor="start" textLength="57.00" lengthAdjust="spacingAndGlyphs">3 Aug 16:00</text>
<rect x="1285" y="822" width="1" height="3" fill="#000"/>
<text transform="translate(1284.5 834) scale(0.9 1)" fill="#000" stroke="#000" stroke-width="0.26" font-size="10" text-rendering="geometricPrecision" text-anchor="start" textLength="57.00" lengthAdjust="spacingAndGlyphs">4 Aug 08:00</text>
<polygon points="8,35 15,35 11.5,39" fill="#000" shape-rendering="geometricPrecision"/>
<text transform="translate(20 40) scale(0.9 1)" fill="#000" stroke="#000" stroke-width="0.26" font-size="10" text-rendering="geometricPrecision" text-anchor="start" textLength="59.44" lengthAdjust="spacingAndGlyphs">USDJPY-,H4</text>
<text transform="translate(80 40) scale(0.9 1)" fill="#000" stroke="#000" stroke-width="0.26" font-size="10" text-rendering="geometricPrecision" text-anchor="start" textLength="36.67" lengthAdjust="spacingAndGlyphs">132.862</text>
<text transform="translate(115.7 40) scale(0.9 1)" fill="#000" stroke="#000" stroke-width="0.26" font-size="10" text-rendering="geometricPrecision" text-anchor="start" textLength="36.67" lengthAdjust="spacingAndGlyphs">132.977</text>
<text transform="translate(152 40) scale(0.9 1)" fill="#000" stroke="#000" stroke-width="0.26" font-size="10" text-rendering="geometricPrecision" text-anchor="start" textLength="36.67" lengthAdjust="spacingAndGlyphs">132.775</text>
<text transform="translate(188 40) scale(0.9 1)" fill="#000" stroke="#000" stroke-width="0.26" font-size="10" text-rendering="geometricPrecision" text-anchor="start" textLength="36.67" lengthAdjust="spacingAndGlyphs">132.834</text>
<text transform="translate(9.6 642) scale(0.9 1)" fill="#000" stroke="#000" stroke-width="0.26" font-size="10" text-rendering="geometricPrecision" text-anchor="start" textLength="147.78" lengthAdjust="spacingAndGlyphs">MACD(12,26,9) -0.1019 -0.1271</text>
<text transform="translate(9.3 744) scale(0.9 1)" fill="#000" stroke="#000" stroke-width="0.26" font-size="10" text-rendering="geometricPrecision" text-anchor="start" textLength="75.56" lengthAdjust="spacingAndGlyphs">RSI(14) 44.0909</text>
<defs><linearGradient id="gBook" x1="0" y1="0" x2="1" y2="1"><stop offset="0" stop-color="#fff6a8"/><stop offset=".3" stop-color="#f8d428"/><stop offset=".7" stop-color="#e4ac10"/><stop offset="1" stop-color="#c08008"/></linearGradient><linearGradient id="gBox2" x1="0" y1="0" x2="1" y2="1"><stop offset="0" stop-color="#109cff"/><stop offset="1" stop-color="#58ccff"/></linearGradient><linearGradient id="gRing" x1="0" y1="0" x2="1" y2="0"><stop offset="0" stop-color="#2454c8"/><stop offset=".45" stop-color="#a8c0e8"/><stop offset=".8" stop-color="#6a9ab0"/><stop offset="1" stop-color="#2c5c8c"/></linearGradient><linearGradient id="gCloud" x1="0" y1="0" x2="0" y2="1"><stop offset="0" stop-color="#ffffff"/><stop offset=".45" stop-color="#f4f6fb"/><stop offset="1" stop-color="#b4c0da"/></linearGradient><linearGradient id="gBox" x1="0" y1="0" x2="1" y2="0"><stop offset="0" stop-color="#1a90f8"/><stop offset=".3" stop-color="#58b8ff"/><stop offset=".32" stop-color="#1480e8"/><stop offset="1" stop-color="#2aa0f4"/></linearGradient><linearGradient id="gHat" x1="0" y1="0" x2="0" y2="1"><stop offset="0" stop-color="#8fd0f8"/><stop offset="1" stop-color="#50a8e0"/></linearGradient><linearGradient id="gFace" x1="0" y1="0" x2="0" y2="1"><stop offset="0" stop-color="#f2c020"/><stop offset=".5" stop-color="#fbe050"/><stop offset="1" stop-color="#ffff98"/></linearGradient><linearGradient id="gRed" x1="0" y1="0" x2="1" y2="1"><stop offset="0" stop-color="#d42000"/><stop offset="1" stop-color="#ff4818"/></linearGradient><radialGradient id="gBadge" cx=".45" cy=".3" r=".8"><stop offset="0" stop-color="#f0503c"/><stop offset="1" stop-color="#d02010"/></radialGradient><linearGradient id="gCandle" x1="0" y1="0" x2="1" y2="0"><stop offset="0" stop-color="#20c030"/><stop offset=".5" stop-color="#80f080"/><stop offset="1" stop-color="#20c030"/></linearGradient><radialGradient id="gLens" cx=".4" cy=".35" r=".8"><stop offset="0" stop-color="#f4fcff"/><stop offset="1" stop-color="#bfe4f8"/></radialGradient><linearGradient id="gPlus" x1="0" y1="0" x2="1" y2="1"><stop offset="0" stop-color="#60f870"/><stop offset="1" stop-color="#08c018"/></linearGradient><linearGradient id="gClock" x1="0" y1="0" x2="0" y2="1"><stop offset="0" stop-color="#3aa0f0"/><stop offset="1" stop-color="#0c58c0"/></linearGradient><linearGradient id="gTitle" x1="0" y1="0" x2="0" y2="1"><stop offset="0" stop-color="#8cc0f0"/><stop offset="1" stop-color="#2c6cc0"/></linearGradient><linearGradient id="gTileG" x1="0" y1="0" x2="1" y2="1"><stop offset="0" stop-color="#48ac14"/><stop offset="1" stop-color="#2c8c08"/></linearGradient><linearGradient id="gTileB" x1="0" y1="0" x2="1" y2="0"><stop offset="0" stop-color="#4478e0"/><stop offset="1" stop-color="#0838c0"/></linearGradient><pattern id="dith" width="2" height="2" patternUnits="userSpaceOnUse"><rect width="2" height="2" fill="#ffffff"/><rect width="1" height="1" fill="#f0f0f0"/><rect x="1" y="1" width="1" height="1" fill="#f0f0f0"/></pattern></defs>
<g shape-rendering="geometricPrecision">
<g shape-rendering="crispEdges"><rect x="0" y="14" width="3" height="4" fill="#0a8a0a"/><rect x="0" y="14" width="3" height="3.3" fill="#08c408"/></g>
<text x="5.5" y="15.3" font-size="12" letter-spacing=".25" font-weight="500" fill="#000">新订单</text>
<g><path d="M59.6,5 C62,6.2 66,9 69,11.4 L69.9,14.3 L61.9,19.6 L54.2,14 C56.5,11.5 58.5,8.5 59.6,5 Z" fill="#c89020" stroke="#985c04" stroke-width="1" stroke-linejoin="round"/><path d="M59.9,5.7 C62.4,7 66,9.4 68.5,11.5 L62,17.2 L55.2,13.6 C57,11.2 58.8,8.6 59.9,5.7 Z" fill="url(#gBook)" stroke="#a87010" stroke-width=".6"/><path d="M55.6,14.8 L62,18.4 L69.2,12.8" fill="none" stroke="#fff0b8" stroke-width=".8"/></g>
<g><path d="M84.1,4.6 L91.4,4.3 L95.1,6.6 L87.5,7.1 Z" fill="#2a86ea"/><path d="M84.1,4.6 L87.5,7.1 L87.5,13 L84.1,13 Z" fill="#0a90f2"/><path d="M87.5,7.1 L95.1,6.6 L95.1,13 L87.5,13 Z" fill="url(#gBox2)"/><path d="M84.5,5.1 L87.5,7.2 V12.6" fill="none" stroke="#e8f6ff" stroke-width=".7"/><path d="M89.1,8.9 L93.9,8.3 V9.4 L89.1,9.9 Z" fill="#f0faff"/><path d="M89.1,11.2 L93.9,11 V11.8 L89.1,11.9 Z" fill="#c8ecff"/><path d="M84.2,19.5 C82.2,19.5 81.6,17.4 82.6,16.2 C83.2,15.3 84.4,15 85.2,15.2 C85.2,13.6 87,13 88.2,13.8 C89.2,11.8 92.2,11.8 93,13.8 L93.6,14.8 C94.6,12.8 97.9,13.4 97.7,16.2 C98.3,17.8 97.2,19.5 95.4,19.5 Z" fill="url(#gCloud)" stroke="#3a4c84" stroke-width="1.1" stroke-linejoin="round"/></g>
<g fill="none"><circle cx="117.95" cy="11.95" r="7.9" fill="#f6f4ea"/><circle cx="117.95" cy="11.95" r="7.4" stroke="url(#gRing)" stroke-width="1" stroke-opacity=".75"/><circle cx="117.95" cy="11.95" r="4.6" stroke="url(#gRing)" stroke-width="1.1" stroke-opacity=".8"/><path d="M117.95,11.95 L117.95,19.85 A7.9,7.9 0 0 0 121.29,19.11 Z" fill="#3aa83a" fill-opacity="0.8"/><path d="M117.95,11.95 L121.29,19.11 A7.9,7.9 0 0 0 124.00,17.03 Z" fill="#3aa83a" fill-opacity="0.66"/><path d="M117.95,11.95 L124.00,17.03 A7.9,7.9 0 0 0 125.58,13.99 Z" fill="#3aa83a" fill-opacity="0.52"/><path d="M117.95,11.95 L125.58,13.99 A7.9,7.9 0 0 0 125.73,10.58 Z" fill="#3aa83a" fill-opacity="0.42"/><path d="M117.95,11.95 L125.73,10.58 A7.9,7.9 0 0 0 124.42,7.42 Z" fill="#3aa83a" fill-opacity="0.3"/><path d="M117.95,11.95 L124.42,7.42 A7.9,7.9 0 0 0 121.90,5.11 Z" fill="#3aa83a" fill-opacity="0.2"/><path d="M117.95,11.95 L121.90,5.11 A7.9,7.9 0 0 0 117.95,4.05 Z" fill="#3aa83a" fill-opacity="0.1"/><circle cx="117.95" cy="11.95" r="2" fill="#2458cc"/><path d="M118.6,12 V19.9" stroke="#12a012" stroke-width="1.3"/></g>
<g><path d="M137.4,11.2 L152.6,10.2 L152.7,11.8 L145.8,19.9 L144.2,19.7 Z" fill="url(#gFace)" stroke="#c89810" stroke-width=".8" stroke-linejoin="round"/><ellipse cx="145" cy="9.5" rx="8" ry="2.4" fill="url(#gHat)" stroke="#2088b0" stroke-width=".8" transform="rotate(-7 145 9.5)"/><path d="M141,9 C140.8,6 142.4,4.6 144.7,4.6 C147,4.6 148.5,6 148.5,8.3 C146.2,9.7 143,9.9 141,9 Z" fill="url(#gHat)" stroke="#2088b0" stroke-width=".8"/><path d="M149.2,9.6 L151.6,8.2" stroke="#e8f6ff" stroke-width=".9" stroke-linecap="round"/><circle cx="149.5" cy="15.9" r="3.9" fill="url(#gRed)" stroke="#b41800" stroke-width=".8"/><rect x="148.2" y="14.3" width="2.9" height="2.7" fill="#fff"/></g>
<text x="158" y="15.3" font-size="12" letter-spacing="-.25" font-weight="500" fill="#000">自动交易</text>
<g shape-rendering="crispEdges"><rect x="213" y="0" width="1" height="24" fill="#a0a0a0"/><rect x="214" y="0" width="1" height="24" fill="#fafafa"/></g>
<g shape-rendering="crispEdges"><rect x="217" y="2" width="3" height="1" fill="#a0a0a0"/><rect x="217" y="4" width="3" height="1" fill="#a0a0a0"/><rect x="217" y="6" width="3" height="1" fill="#a0a0a0"/><rect x="217" y="8" width="3" height="1" fill="#a0a0a0"/><rect x="217" y="10" width="3" height="1" fill="#a0a0a0"/><rect x="217" y="12" width="3" height="1" fill="#a0a0a0"/><rect x="217" y="14" width="3" height="1" fill="#a0a0a0"/><rect x="217" y="16" width="3" height="1" fill="#a0a0a0"/><rect x="217" y="18" width="3" height="1" fill="#a0a0a0"/><rect x="217" y="20" width="3" height="1" fill="#a0a0a0"/></g>
<g shape-rendering="crispEdges"><rect x="231" y="7" width="1" height="13" fill="#505050"/><rect x="229" y="17" width="13" height="1" fill="#505050"/></g>
<path d="M231.5,5.8 L229.9,8.4 H233.1 Z" fill="#505050"/><path d="M243.2,17.5 L240.7,15.9 V19.1 Z" fill="#505050"/>
<path d="M237.5,7 V16 M235,14.5 H237.5 M237.5,8.5 H240.2" stroke="#088008" stroke-width="1.3" fill="none"/>
<g shape-rendering="crispEdges"><rect x="251" y="0" width="25" height="23" fill="url(#dith)"/><rect x="251" y="0" width="25" height="1" fill="#a0a0a0"/><rect x="251" y="0" width="1" height="22" fill="#a0a0a0"/><rect x="276" y="0" width="1" height="23" fill="#ffffff"/><rect x="251" y="22" width="25" height="1" fill="#ffffff"/></g>
<g shape-rendering="crispEdges"><rect x="259" y="7" width="1" height="13" fill="#505050"/><rect x="257" y="17" width="13" height="1" fill="#505050"/></g>
<path d="M259.5,5.8 L257.9,8.4 H261.1 Z" fill="#505050"/><path d="M271.2,17.5 L268.7,15.9 V19.1 Z" fill="#505050"/>
<path d="M265.5,4.2 V16" stroke="#088008" stroke-width="1.2"/><rect x="263.5" y="6.5" width="4" height="7.5" fill="url(#gCandle)" stroke="#088008" stroke-width="1"/>
<g shape-rendering="crispEdges"><rect x="287" y="7" width="1" height="13" fill="#505050"/><rect x="285" y="17" width="13" height="1" fill="#505050"/></g>
<path d="M287.5,5.8 L285.9,8.4 H289.1 Z" fill="#505050"/><path d="M299.2,17.5 L296.7,15.9 V19.1 Z" fill="#505050"/>
<path d="M286,14.6 C288.5,13 290,9.4 292.4,9.5 C294.6,9.6 295.6,12.4 297.8,13" stroke="#18901c" stroke-width="1.3" fill="none"/>
<g shape-rendering="crispEdges"><rect x="308" y="1" width="1" height="21" fill="#a0a0a0"/><rect x="309" y="1" width="1" height="21" fill="#fafafa"/></g>
<path d="M327.2,14.4 L331.4,18.2" stroke="#9a7408" stroke-width="3.2" stroke-linecap="round"/><path d="M327.2,14.4 L331.4,18.2" stroke="#f0d030" stroke-width="1.8" stroke-linecap="round"/><circle cx="323" cy="9.9" r="5.6" fill="url(#gLens)" stroke="#3476c8" stroke-width="1.2"/><path d="M319.7,9.9 H326.3" stroke="#3c86b4" stroke-width="1.9"/><path d="M323,6.6 V13.2" stroke="#3c86b4" stroke-width="1.9"/>
<path d="M355.2,14.4 L359.4,18.2" stroke="#9a7408" stroke-width="3.2" stroke-linecap="round"/><path d="M355.2,14.4 L359.4,18.2" stroke="#f0d030" stroke-width="1.8" stroke-linecap="round"/><circle cx="351" cy="9.9" r="5.6" fill="url(#gLens)" stroke="#3476c8" stroke-width="1.2"/><path d="M347.7,9.9 H354.3" stroke="#3c86b4" stroke-width="1.9"/>
<rect x="373" y="4" width="8" height="8" rx="1.2" fill="url(#gTileG)"/><rect x="374.1" y="7.1" width="5.8" height="3" fill="#fff"/><rect x="374.1" y="10" width="1.5" height="1" fill="#fff"/><rect x="378.4" y="10" width="1.5" height="1" fill="#fff"/><rect x="375.1" y="8.2" width="3.8" height=".8" fill="#9fd890"/><rect x="374.2" y="5.2" width="1" height="1" fill="#e8f4e8"/><rect x="381" y="4" width="8" height="8" rx="1.2" fill="url(#gTileB)"/><rect x="382.1" y="7.1" width="5.8" height="3" fill="#fff"/><rect x="382.1" y="10" width="1.5" height="1" fill="#fff"/><rect x="386.4" y="10" width="1.5" height="1" fill="#fff"/><rect x="383.1" y="8.2" width="3.8" height=".8" fill="#9fb4f0"/><rect x="382.2" y="5.2" width="1" height="1" fill="#e8f4e8"/><rect x="373" y="12" width="8" height="8" rx="1.2" fill="url(#gTileB)"/><rect x="374.1" y="15.1" width="5.8" height="3" fill="#fff"/><rect x="374.1" y="18" width="1.5" height="1" fill="#fff"/><rect x="378.4" y="18" width="1.5" height="1" fill="#fff"/><rect x="375.1" y="16.2" width="3.8" height=".8" fill="#9fb4f0"/><rect x="374.2" y="13.2" width="1" height="1" fill="#e8f4e8"/><rect x="381" y="12" width="8" height="8" rx="1.2" fill="url(#gTileG)"/><rect x="382.1" y="15.1" width="5.8" height="3" fill="#fff"/><rect x="382.1" y="18" width="1.5" height="1" fill="#fff"/><rect x="386.4" y="18" width="1.5" height="1" fill="#fff"/><rect x="383.1" y="16.2" width="3.8" height=".8" fill="#9fd890"/><rect x="382.2" y="13.2" width="1" height="1" fill="#e8f4e8"/>
<g shape-rendering="crispEdges"><rect x="398" y="1" width="1" height="21" fill="#a0a0a0"/><rect x="399" y="1" width="1" height="21" fill="#fafafa"/></g>
<g shape-rendering="crispEdges"><rect x="403" y="0" width="25" height="23" fill="url(#dith)"/><rect x="403" y="0" width="25" height="1" fill="#a0a0a0"/><rect x="403" y="0" width="1" height="22" fill="#a0a0a0"/><rect x="428" y="0" width="1" height="23" fill="#ffffff"/><rect x="403" y="22" width="25" height="1" fill="#ffffff"/></g>
<g shape-rendering="crispEdges"><rect x="411" y="7" width="1" height="13" fill="#505050"/><rect x="409" y="17" width="13" height="1" fill="#505050"/></g>
<path d="M411.5,5.8 L409.9,8.4 H413.1 Z" fill="#505050"/><path d="M423.2,17.5 L420.7,15.9 V19.1 Z" fill="#505050"/>
<path d="M416.3,8.2 L419.8,11.4 L416.3,14.6 Z" fill="#58d860" stroke="#109018" stroke-width="1.1" stroke-linejoin="round"/>
<g shape-rendering="crispEdges"><rect x="431" y="0" width="25" height="23" fill="url(#dith)"/><rect x="431" y="0" width="25" height="1" fill="#a0a0a0"/><rect x="431" y="0" width="1" height="22" fill="#a0a0a0"/><rect x="456" y="0" width="1" height="23" fill="#ffffff"/><rect x="431" y="22" width="25" height="1" fill="#ffffff"/></g>
<g shape-rendering="crispEdges"><rect x="439" y="7" width="1" height="13" fill="#505050"/><rect x="437" y="17" width="13" height="1" fill="#505050"/></g>
<path d="M439.5,5.8 L437.9,8.4 H441.1 Z" fill="#505050"/><path d="M451.2,17.5 L448.7,15.9 V19.1 Z" fill="#505050"/>
<path d="M445.5,6 V16" stroke="#1878a8" stroke-width="1.2"/><path d="M446.4,11.5 H451" stroke="#d84800" stroke-width="1.2"/><path d="M446,11.5 L449.2,9 L448.3,11.5 L449.2,14 Z" fill="#d84800"/>
<g shape-rendering="crispEdges"><rect x="460" y="1" width="1" height="21" fill="#a0a0a0"/><rect x="461" y="1" width="1" height="21" fill="#fafafa"/></g>
<path d="M470.5,4.7 H478.6 L481.6,7.6 V17.5 H470.5 Z" fill="#fcfcfc" stroke="#8a8a8a" stroke-width=".9"/><path d="M478.6,4.7 V7.6 H481.6" fill="#e8e8e8" stroke="#8a8a8a" stroke-width=".7"/><text x="472" y="13.6" font-size="9.5" font-style="italic" font-weight="bold" font-family="'Liberation Serif',serif" fill="#3a3020">f</text><path d="M474.4,14.1 H478.2 V10.4 H481.8 V14.1 H485.8 V17.6 H481.8 V21.6 H478.2 V17.6 H474.4 Z" fill="url(#gPlus)" stroke="#0c8a14" stroke-width=".9" stroke-linejoin="round"/>
<polygon points="491.7,11 497.3,11 494.5,14" fill="#000"/>
<circle cx="516.1" cy="12.1" r="6.5" fill="#eef1f6" stroke="url(#gClock)" stroke-width="2.6"/><circle cx="516.1" cy="12.1" r="7.7" fill="none" stroke="#0c4cb0" stroke-width=".5"/><g stroke="#5c6470" stroke-width=".8"><path d="M516.1,7.4 V8.2 M516.1,16 V16.8 M511.4,12.1 H512.2 M520,12.1 H520.8 M512.5,8.5 L513.1,9.1 M519.7,8.5 L519.1,9.1 M512.5,15.7 L513.1,15.1 M519.7,15.7 L519.1,15.1"/></g><path d="M515.4,8.4 V12 L518.4,11.5" stroke="#101010" stroke-width="1.3" fill="none"/><path d="M514.8,14.6 H517.2" stroke="#60a0f0" stroke-width=".8"/>
<polygon points="530.9,11 536.5,11 533.6999999999999,14" fill="#000"/>
<rect x="547.1" y="5" width="15.9" height="13.8" rx="1" fill="#3070c0"/><rect x="547.6" y="5.5" width="14.9" height="2.4" fill="url(#gTitle)"/><rect x="548.1" y="8" width="13.9" height="4.9" fill="#fff"/><rect x="548.1" y="13.5" width="13.9" height="4.3" fill="#fff"/><path d="M549.3,11.4 L552.4,10.4 L555,9.5 L557.5,10.5 L560.4,9.5" stroke="#a01c0c" stroke-width="1.4" fill="none"/><path d="M550.3,16.5 L553,15.5 L555,16.5 L558,14.3 L560.6,16.5" stroke="#0c8018" stroke-width="1.4" fill="none"/>
<polygon points="569.9,11 575.5,11 572.6999999999999,14" fill="#000"/>
<g shape-rendering="crispEdges"><rect x="581" y="0" width="1" height="24" fill="#a0a0a0"/><rect x="582" y="0" width="1" height="24" fill="#fafafa"/></g>
<g shape-rendering="crispEdges"><rect x="585" y="2" width="3" height="1" fill="#a0a0a0"/><rect x="585" y="4" width="3" height="1" fill="#a0a0a0"/><rect x="585" y="6" width="3" height="1" fill="#a0a0a0"/><rect x="585" y="8" width="3" height="1" fill="#a0a0a0"/><rect x="585" y="10" width="3" height="1" fill="#a0a0a0"/><rect x="585" y="12" width="3" height="1" fill="#a0a0a0"/><rect x="585" y="14" width="3" height="1" fill="#a0a0a0"/><rect x="585" y="16" width="3" height="1" fill="#a0a0a0"/><rect x="585" y="18" width="3" height="1" fill="#a0a0a0"/><rect x="585" y="20" width="3" height="1" fill="#a0a0a0"/></g>
<g shape-rendering="crispEdges"><rect x="591" y="0" width="25" height="23" fill="url(#dith)"/><rect x="591" y="0" width="25" height="1" fill="#a0a0a0"/><rect x="591" y="0" width="1" height="22" fill="#a0a0a0"/><rect x="616" y="0" width="1" height="23" fill="#ffffff"/><rect x="591" y="22" width="25" height="1" fill="#ffffff"/></g>
<path d="M599,5 L599,15.9 L601.6,14 L604.3,18.9 L605.9,18 L603.4,13.2 L607,12.7 Z" fill="#505050"/>
<g shape-rendering="crispEdges"><rect x="631" y="5" width="1" height="6" fill="#505050"/><rect x="631" y="14" width="1" height="6" fill="#505050"/><rect x="624" y="12" width="6" height="1" fill="#505050"/><rect x="633" y="12" width="6" height="1" fill="#505050"/><rect x="631" y="12" width="1" height="1" fill="#808070"/></g>
<g shape-rendering="crispEdges"><rect x="648" y="1" width="1" height="21" fill="#a0a0a0"/><rect x="649" y="1" width="1" height="21" fill="#fafafa"/></g>
<g shape-rendering="crispEdges"><rect x="665" y="6" width="1" height="13" fill="#505050"/><rect x="688" y="12" width="12" height="1" fill="#505050"/></g>
<path d="M715.9,18.8 L728,6.9" stroke="#505050" stroke-width="1.1"/>
<g stroke="#505050" fill="none"><path d="M741.4,13.6 L749.9,6 M742.5,17.7 L755.1,6.5 M746.8,18.8 L756.3,10.3" stroke-width=".8"/><path d="M744.3,11.4 L744.6,18.8 M747.5,10.5 L747.7,15.4 M750.6,8.3 L750.9,15.1 M753.5,4.2 L754.4,11.1" stroke="#383838" stroke-width="1.3"/></g>
<text x="752.9" y="20.9" font-size="6.8" font-weight="bold" fill="#303030">E</text>
<g shape-rendering="crispEdges"><rect x="771" y="5" width="1" height="1" fill="#505050"/><rect x="773" y="5" width="1" height="1" fill="#505050"/><rect x="775" y="5" width="1" height="1" fill="#505050"/><rect x="777" y="5" width="1" height="1" fill="#505050"/><rect x="779" y="5" width="1" height="1" fill="#505050"/><rect x="781" y="5" width="1" height="1" fill="#505050"/><rect x="783" y="5" width="1" height="1" fill="#505050"/><rect x="771" y="8" width="1" height="1" fill="#505050"/><rect x="773" y="8" width="1" height="1" fill="#505050"/><rect x="775" y="8" width="1" height="1" fill="#505050"/><rect x="777" y="8" width="1" height="1" fill="#505050"/><rect x="779" y="8" width="1" height="1" fill="#505050"/><rect x="781" y="8" width="1" height="1" fill="#505050"/><rect x="783" y="8" width="1" height="1" fill="#505050"/><rect x="771" y="12" width="1" height="1" fill="#505050"/><rect x="773" y="12" width="1" height="1" fill="#505050"/><rect x="775" y="12" width="1" height="1" fill="#505050"/><rect x="777" y="12" width="1" height="1" fill="#505050"/><rect x="779" y="12" width="1" height="1" fill="#505050"/><rect x="781" y="12" width="1" height="1" fill="#505050"/><rect x="783" y="12" width="1" height="1" fill="#505050"/><rect x="771" y="16" width="1" height="1" fill="#505050"/><rect x="773" y="16" width="1" height="1" fill="#505050"/><rect x="775" y="16" width="1" height="1" fill="#505050"/><rect x="777" y="16" width="1" height="1" fill="#505050"/><rect x="779" y="16" width="1" height="1" fill="#505050"/></g>
<text x="780.9" y="20.9" font-size="6.8" font-weight="bold" fill="#303030">F</text>
<text x="801.2" y="17" font-size="12.8" fill="#505050" stroke="#505050" stroke-width=".3">A</text>
<g shape-rendering="crispEdges"><rect x="828" y="6" width="1" height="1" fill="#505050"/><rect x="828" y="18" width="1" height="1" fill="#505050"/><rect x="828" y="6" width="1" height="1" fill="#505050"/><rect x="839" y="6" width="1" height="1" fill="#505050"/><rect x="830" y="6" width="1" height="1" fill="#505050"/><rect x="830" y="18" width="1" height="1" fill="#505050"/><rect x="828" y="8" width="1" height="1" fill="#505050"/><rect x="839" y="8" width="1" height="1" fill="#505050"/><rect x="832" y="6" width="1" height="1" fill="#505050"/><rect x="832" y="18" width="1" height="1" fill="#505050"/><rect x="828" y="10" width="1" height="1" fill="#505050"/><rect x="839" y="10" width="1" height="1" fill="#505050"/><rect x="834" y="6" width="1" height="1" fill="#505050"/><rect x="834" y="18" width="1" height="1" fill="#505050"/><rect x="828" y="12" width="1" height="1" fill="#505050"/><rect x="839" y="12" width="1" height="1" fill="#505050"/><rect x="836" y="6" width="1" height="1" fill="#505050"/><rect x="836" y="18" width="1" height="1" fill="#505050"/><rect x="828" y="14" width="1" height="1" fill="#505050"/><rect x="839" y="14" width="1" height="1" fill="#505050"/><rect x="838" y="6" width="1" height="1" fill="#505050"/><rect x="838" y="18" width="1" height="1" fill="#505050"/><rect x="828" y="16" width="1" height="1" fill="#505050"/><rect x="839" y="16" width="1" height="1" fill="#505050"/><rect x="840" y="6" width="1" height="1" fill="#505050"/><rect x="840" y="18" width="1" height="1" fill="#505050"/><rect x="828" y="18" width="1" height="1" fill="#505050"/><rect x="839" y="18" width="1" height="1" fill="#505050"/><rect x="827" y="5" width="1" height="1" fill="#505050"/></g>
<text x="834" y="16.7" font-size="10.6" font-weight="bold" fill="#505050" text-anchor="middle">T</text>
<g fill="#505050"><path d="M858.5,6.2 L862.2,9.8 L860.2,9.8 L860.2,10.7 L856.8,10.7 L856.8,9.8 L854.8,9.8 Z"/><path d="M865.4,19.1 L861.7,15.4 L863.7,15.4 L863.7,14.5 L867.1,14.5 L867.1,15.4 L869.1,15.4 Z"/><path d="M857.2,14 L859.2,15.6 L863.7,10.4" stroke="#505050" stroke-width="1.2" fill="none"/></g>
<polygon points="875.7,11 881.3000000000001,11 878.5,14" fill="#000"/>
<g shape-rendering="crispEdges"><rect x="887" y="0" width="1" height="24" fill="#a0a0a0"/><rect x="888" y="0" width="1" height="24" fill="#fafafa"/></g>
<g shape-rendering="crispEdges"><rect x="891" y="2" width="3" height="1" fill="#a0a0a0"/><rect x="891" y="4" width="3" height="1" fill="#a0a0a0"/><rect x="891" y="6" width="3" height="1" fill="#a0a0a0"/><rect x="891" y="8" width="3" height="1" fill="#a0a0a0"/><rect x="891" y="10" width="3" height="1" fill="#a0a0a0"/><rect x="891" y="12" width="3" height="1" fill="#a0a0a0"/><rect x="891" y="14" width="3" height="1" fill="#a0a0a0"/><rect x="891" y="16" width="3" height="1" fill="#a0a0a0"/><rect x="891" y="18" width="3" height="1" fill="#a0a0a0"/><rect x="891" y="20" width="3" height="1" fill="#a0a0a0"/></g>
<g shape-rendering="crispEdges"><rect x="1038" y="0" width="24" height="23" fill="url(#dith)"/><rect x="1038" y="0" width="24" height="1" fill="#a0a0a0"/><rect x="1038" y="0" width="1" height="22" fill="#a0a0a0"/><rect x="1062" y="0" width="1" height="23" fill="#ffffff"/><rect x="1038" y="22" width="24" height="1" fill="#ffffff"/></g>
<text x="902.4" y="15.7" font-size="9.6" fill="#404040" textLength="12.6" lengthAdjust="spacingAndGlyphs">M1</text>
<text x="930.7" y="15.7" font-size="9.6" fill="#404040" textLength="12.6" lengthAdjust="spacingAndGlyphs">M5</text>
<text x="956.5" y="15.7" font-size="9.6" fill="#404040" textLength="17.5" lengthAdjust="spacingAndGlyphs">M15</text>
<text x="984.4" y="15.7" font-size="9.6" fill="#404040" textLength="18" lengthAdjust="spacingAndGlyphs">M30</text>
<text x="1015.4" y="15.7" font-size="9.6" fill="#404040" textLength="11.9" lengthAdjust="spacingAndGlyphs">H1</text>
<text x="1042.4" y="15.7" font-size="9.6" fill="#404040" textLength="12.3" lengthAdjust="spacingAndGlyphs">H4</text>
<text x="1071.3" y="15.7" font-size="9.6" fill="#404040" textLength="12.2" lengthAdjust="spacingAndGlyphs">D1</text>
<text x="1098.9" y="15.7" font-size="9.6" fill="#404040" textLength="14.4" lengthAdjust="spacingAndGlyphs">W1</text>
<text x="1125.4" y="15.7" font-size="9.6" fill="#404040" textLength="14.9" lengthAdjust="spacingAndGlyphs">MN</text>
<g shape-rendering="crispEdges"><rect x="1148" y="1" width="1" height="21" fill="#a0a0a0"/><rect x="1149" y="1" width="1" height="21" fill="#fafafa"/></g>
<path d="M1611.4,16.6 L1615.6,12" stroke="#2858c0" stroke-width="2.6" stroke-linecap="round"/><path d="M1611.6,16.2 L1615.4,12.2" stroke="#6c98e8" stroke-width=".8" stroke-linecap="round"/><circle cx="1618.6" cy="9.4" r="3.7" fill="#f6f9ff" stroke="#2c60cc" stroke-width="1.5"/>
<path d="M1641,9.4 C1637.6,9.4 1635.2,11.4 1635.2,14 C1635.2,16 1636.6,17.4 1638.4,18 L1638,20.4 L1641.2,18.4 C1644.8,18.4 1646.4,16.8 1646.4,14.2 Z" fill="#e4e4ea" stroke="#a8a8ae" stroke-width=".9"/>
<circle cx="1649.3" cy="9.5" r="8.3" fill="url(#gBadge)"/>
<text x="1648.5" y="14" font-size="12.6" fill="#fff" stroke="#fff" stroke-width=".55" text-anchor="middle">1</text>
</g>
</svg>
</body></html>
